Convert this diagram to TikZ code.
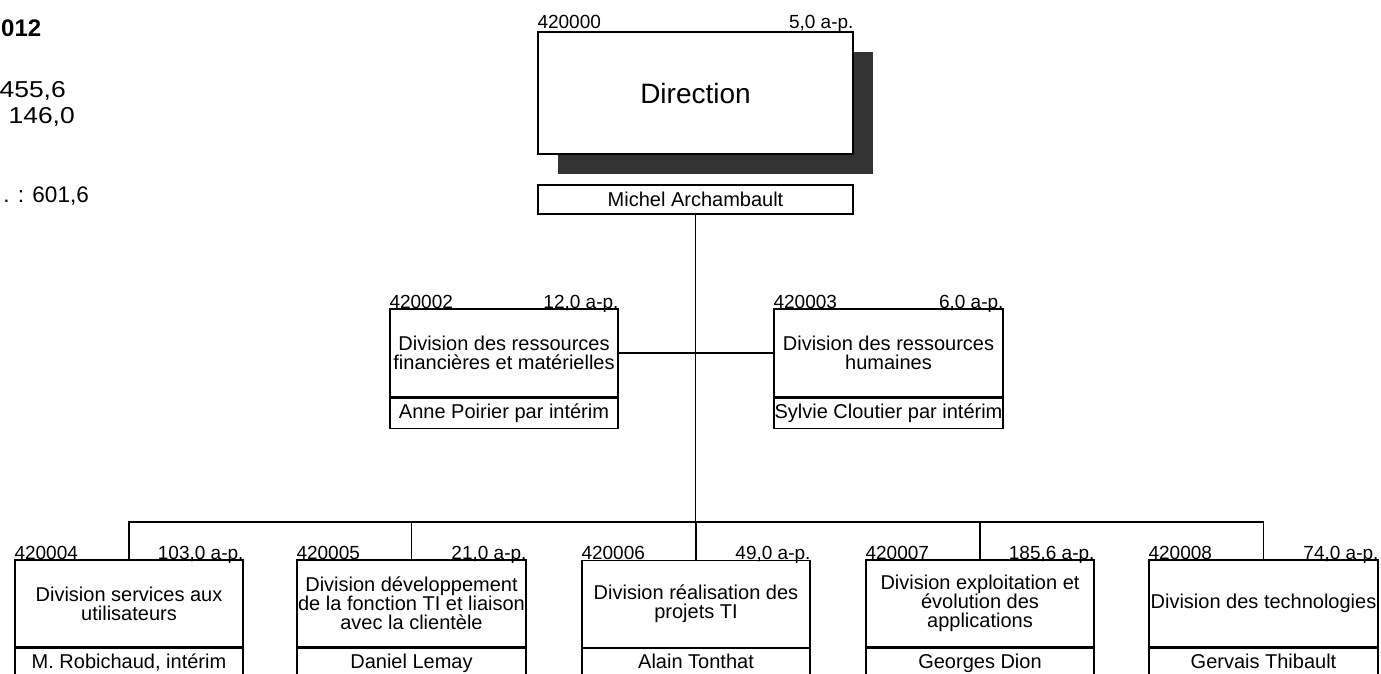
\documentclass[tikz,border=0pt]{standalone}
\usepackage{fontspec}
\setmainfont{Liberation Sans}
\newfontfamily\widefont[FakeStretch=1.15]{Liberation Sans}
\definecolor{shadowc}{HTML}{333333}
\tikzset{
  box/.style={draw, line width=1.3pt, inner sep=0pt, align=center, fill=white,
              font=\fontsize{20pt}{19pt}\selectfont},
  namebox/.style={draw, line width=1.3pt, inner sep=0pt, anchor=north, minimum height=30pt,
              text height=14.5pt, text depth=4.2pt,
              font=\fontsize{20pt}{24pt}\selectfont},
  lbl/.style={inner sep=0pt, font=\fontsize{19pt}{22pt}\selectfont},
  conn/.style={line width=1.3pt},
  side/.style={inner sep=0pt, font=\widefont\fontsize{23pt}{28pt}\selectfont}
}
\begin{document}
\begin{tikzpicture}[x=1pt,y=-1pt]
\useasboundingbox (0,0) rectangle (1381,674);
\clip (0,0) rectangle (1381,674);

% left side texts
\node[inner sep=0pt, font=\fontsize{24pt}{28pt}\selectfont\bfseries, anchor=base west] (t0) at (1,37) {012};
\node[side, anchor=base east] (t1) at (66,98) {455,6};
\node[side, anchor=base east] (t2) at (75,124) {146,0};
\node[inner sep=0pt, font=\fontsize{22.5pt}{28pt}\selectfont, anchor=base east] (t3) at (89,202) {. : 601,6};

% Direction
\node[fill=shadowc, inner sep=0pt, minimum width=315pt, minimum height=122pt] (shd) at (715.5,113) {};
\node[box, minimum width=315pt, minimum height=122pt, font=\fontsize{28pt}{32pt}\selectfont] (dir) at (695.5,93) {Direction};
\node[lbl, anchor=base west] (dirc) at ([yshift=3pt]dir.north west) {420000};
\node[lbl, anchor=base east] (dira) at ([yshift=3pt]dir.north east) {5,0 a-p.};
\node[box, minimum width=315pt, minimum height=29pt, font=\fontsize{20pt}{24pt}\selectfont] (mich) at (695.5,199.5) {Michel Archambault};

% second level
\node[box, minimum width=228pt, minimum height=88pt] (d2) at (504,353) {Division des ressources\\financières et matérielles};
\node[namebox, minimum width=228pt] (n2) at (d2.south) {Anne Poirier par intérim};
\node[lbl, anchor=base west] (c2) at (d2.north west) {420002};
\node[lbl, anchor=base east] (a2) at (d2.north east) {12,0 a-p.};

\node[box, minimum width=229pt, minimum height=88pt] (d3) at (888.5,353) {Division des ressources\\humaines};
\node[namebox, minimum width=229pt] (n3) at (d3.south) {Sylvie Cloutier par intérim};
\node[lbl, anchor=base west] (c3) at (d3.north west) {420003};
\node[lbl, anchor=base east] (a3) at (d3.north east) {6,0 a-p.};

% third level
\node[box, minimum width=228pt, minimum height=87pt] (d4) at (129,603.5) {Division services aux\\utilisateurs};
\node[namebox, minimum width=228pt] (n4) at (d4.south) {M. Robichaud, intérim};
\node[lbl, anchor=base west] (c4) at (d4.north west) {420004};
\node[lbl, anchor=base east] (a4) at (d4.north east) {103,0 a-p.};

\node[box, minimum width=229pt, minimum height=87pt] (d5) at (411.5,603.5) {Division développement\\de la fonction TI et liaison\\avec la clientèle};
\node[namebox, minimum width=229pt] (n5) at (d5.south) {Daniel Lemay};
\node[lbl, anchor=base west] (c5) at (d5.north west) {420005};
\node[lbl, anchor=base east] (a5) at (d5.north east) {21,0 a-p.};

\node[box, minimum width=228pt, minimum height=87pt] (d6) at (696,604) {Division réalisation des\\projets TI};
\node[namebox, minimum width=228pt] (n6) at (d6.south) {Alain Tonthat};
\node[lbl, anchor=base west] (c6) at (d6.north west) {420006};
\node[lbl, anchor=base east] (a6) at (d6.north east) {49,0 a-p.};

\node[box, minimum width=228pt, minimum height=87pt] (d7) at (980,603.5) {Division exploitation et\\évolution des\\applications};
\node[namebox, minimum width=228pt] (n7) at (d7.south) {Georges Dion};
\node[lbl, anchor=base west] (c7) at (d7.north west) {420007};
\node[lbl, anchor=base east] (a7) at (d7.north east) {185,6 a-p.};

\node[box, minimum width=229pt, minimum height=87pt] (d8) at (1263.5,603.5) {Division des technologies};
\node[namebox, minimum width=229pt] (n8) at (d8.south) {Gervais Thibault};
\node[lbl, anchor=base west] (c8) at (d8.north west) {420008};
\node[lbl, anchor=base east] (a8) at (d8.north east) {74,0 a-p.};

% connectors
\coordinate (bus) at (695.5,522);
\draw[conn] (mich.south) -- (bus);
\draw[conn] (d2.east) -- (d3.west);
\draw[conn] (d4.north) -- (d4.north |- bus) -- (d8.north |- bus) -- (d8.north);
\foreach \n in {d5,d6,d7} \draw[conn] (\n.north) -- (\n.north |- bus);
\end{tikzpicture}
\end{document}
